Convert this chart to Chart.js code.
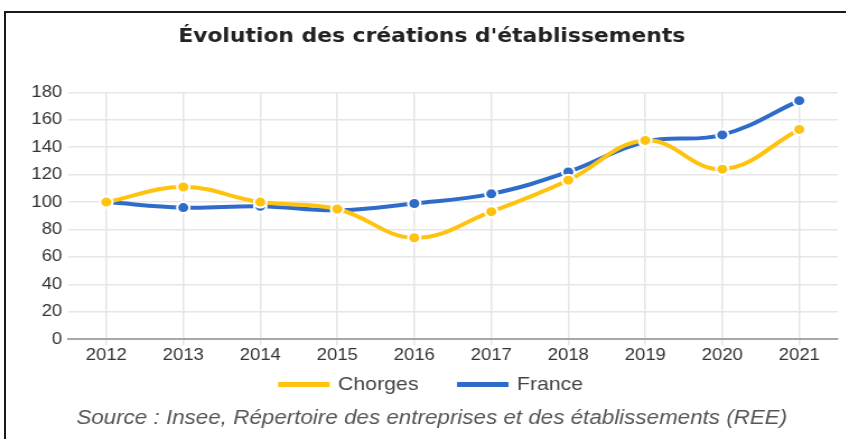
<!DOCTYPE html>
<html lang="fr">
<head>
<meta charset="utf-8">
<title>Évolution des créations d'établissements</title>
<script src="https://cdn.jsdelivr.net/npm/chart.js@4.4.1/dist/chart.umd.min.js"></script>
<style>
  html, body { margin: 0; padding: 0; background: #fff; overflow: hidden; }
  body { width: 846px; height: 439px; position: relative; }
  #frame {
    position: absolute; left: 4px; top: 11px; width: 900px; height: 500px;
    border: 2px solid #1a1a1a; pointer-events: none; z-index: 2;
  }
  /* the reference is a bit wider than tall, so the drawing gets stretched sideways */
  #wrap {
    position: absolute; left: 0; top: 0; width: 775px; height: 439px;
    transform: scaleX(1.12); transform-origin: 0 0;
  }
</style>
</head>
<body>
<div id="frame"></div>
<div id="wrap"><canvas id="creationsChart"></canvas></div>

<script>
  const years = ['2012', '2013', '2014', '2015', '2016', '2017', '2018', '2019', '2020', '2021'];
  const chorges = [100, 111, 100, 95, 74, 93, 116, 145, 124, 153];
  const france = [100, 96, 97, 94, 99, 106, 122, 144, 149, 174];
  const yTicks = [0, 20, 40, 60, 80, 100, 120, 140, 160, 180];

  const fontFamily = "'Liberation Sans', Arial, sans-serif";

  function makeSeries(label, data, color) {
    return {
      label: label,
      data: data,
      borderColor: color,
      backgroundColor: color,
      borderWidth: 4,
      tension: 0.4,
      fill: false,
      pointRadius: 5.5,
      pointBorderWidth: 2,
      pointBorderColor: '#ffffff',
      pointBackgroundColor: color,
      pointHoverRadius: 5.5
    };
  }

  const ctx = document.getElementById('creationsChart').getContext('2d');

  new Chart(ctx, {
    type: 'line',
    data: {
      labels: years,
      datasets: [
        makeSeries('Chorges', chorges, '#ffc20e'),
        makeSeries('France', france, '#2f6cca')
      ]
    },
    options: {
      responsive: true,
      maintainAspectRatio: false,
      animation: false,
      layout: {
        padding: { left: 23, right: 27, top: 0, bottom: 0 }
      },
      plugins: {
        title: {
          display: true,
          text: "Évolution des créations d'établissements",
          color: '#222',
          font: { family: "'DejaVu Sans', sans-serif", size: 19.5, weight: 'bold' },
          padding: { top: 25, bottom: 44 }
        },
        legend: {
          position: 'bottom',
          labels: {
            boxWidth: 42,
            boxHeight: 1,
            padding: 10,
            color: '#444',
            font: { family: fontFamily, size: 19 },
            generateLabels: chart => {
              const items = Chart.defaults.plugins.legend.labels.generateLabels(chart);
              // a bit more room after the first entry, like the reference
              items[0].text = items[0].text + '\u00a0\u00a0\u00a0\u00a0\u00a0';
              return items;
            }
          }
        },
        subtitle: {
          display: true,
          position: 'bottom',
          text: 'Source : Insee, Répertoire des entreprises et des établissements (REE)',
          color: '#555',
          font: { family: fontFamily, size: 20, style: 'italic' },
          padding: { top: 2, bottom: 9 }
        },
        tooltip: { enabled: false }
      },
      scales: {
        x: {
          offset: true,
          grid: {
            color: '#e6e6e6',
            lineWidth: 1.5,
            drawTicks: true,
            tickLength: 6
          },
          border: { display: true, color: '#a8a8a8', width: 2 },
          ticks: {
            color: '#333',
            padding: 0,
            maxRotation: 0,
            font: { family: fontFamily, size: 16.5 }
          }
        },
        y: {
          min: 0,
          max: 180,
          afterBuildTicks: scale => {
            scale.ticks = yTicks.map(v => ({ value: v }));
          },
          grid: {
            color: '#e6e6e6',
            lineWidth: 1.5,
            drawTicks: false
          },
          border: { display: false },
          ticks: {
            color: '#333',
            padding: 5,
            font: { family: fontFamily, size: 16.5 }
          }
        }
      }
    }
  });
</script>
</body>
</html>
